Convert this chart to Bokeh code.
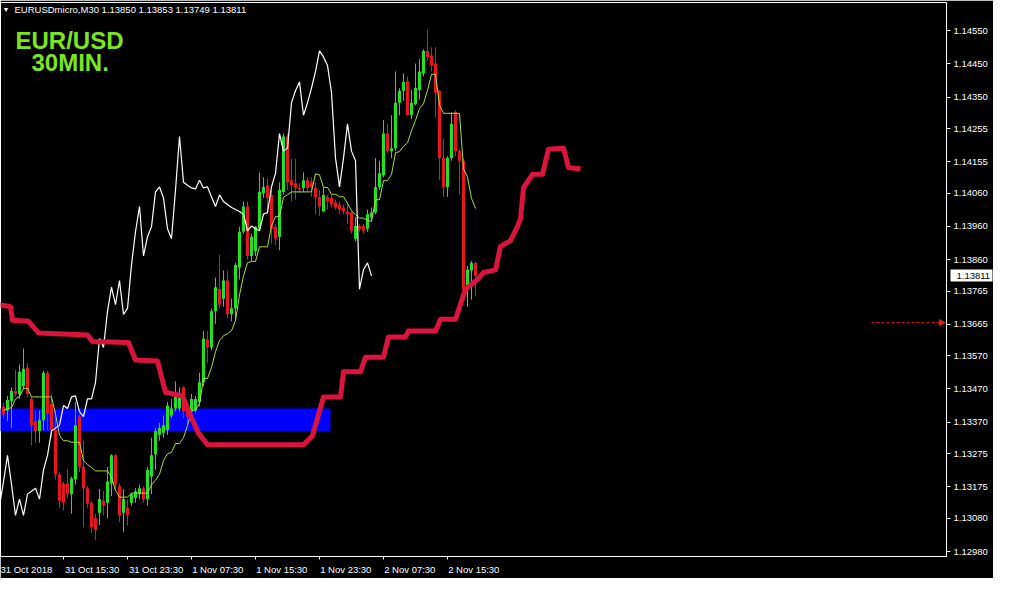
import numpy as np
import pandas as pd
from bokeh.plotting import figure
from bokeh.models import (Range1d, FixedTicker, Label, Arrow, NormalHead, LinearAxis,
                          ColumnDataSource, PrintfTickFormatter)
from bokeh.embed import file_html
from bokeh.resources import INLINE

# ---------------- data ----------------
symbol = "EURUSDmicro,M30"
chart_title = "EUR/USD"
chart_subtitle = "30MIN."
first_bar = "2018-10-31 08:00"
bar_minutes = 30

opens = [1.13417, 1.13405, 1.13434, 1.13464, 1.13455, 1.13478, 1.13534, 1.13440, 1.13373, 1.13343,
         1.13376, 1.13519, 1.13425, 1.13346, 1.13212, 1.13185, 1.13185, 1.13153, 1.13197, 1.13387,
         1.13235, 1.13171, 1.13127, 1.13080, 1.13097, 1.13133, 1.13127, 1.13185, 1.13270, 1.13177,
         1.13097, 1.13112, 1.13127, 1.13141, 1.13153, 1.13171, 1.13138, 1.13206, 1.13273, 1.13332,
         1.13338, 1.13346, 1.13390, 1.13411, 1.13411, 1.13475, 1.13402, 1.13402, 1.13405, 1.13431,
         1.13490, 1.13619, 1.13595, 1.13704, 1.13771, 1.13742, 1.13797, 1.13695, 1.13713, 1.13836,
         1.13944, 1.14020, 1.13871, 1.13885, 1.13953, 1.14061, 1.14084, 1.14055, 1.13959, 1.13929,
         1.14064, 1.14231, 1.14099, 1.14090, 1.14076, 1.14076, 1.14099, 1.14093, 1.14076, 1.14049,
         1.14005, 1.14049, 1.14046, 1.14032, 1.14026, 1.14017, 1.14005, 1.14002, 1.13923, 1.13961,
         1.13961, 1.13953, 1.13988, 1.14002, 1.14079, 1.14114, 1.14240, 1.14187, 1.14196, 1.14333,
         1.14369, 1.14398, 1.14295, 1.14328, 1.14371, 1.14421, 1.14489, 1.14474, 1.14451, 1.14369,
         1.14166, 1.14079, 1.14166, 1.14304, 1.14187, 1.14158, 1.13777, 1.13827, 1.13850]

highs = [1.13428, 1.13449, 1.13475, 1.13528, 1.13543, 1.13592, 1.13548, 1.13446, 1.13405, 1.13405,
         1.13525, 1.13525, 1.13455, 1.13405, 1.13220, 1.13191, 1.13229, 1.13206, 1.13431, 1.13393,
         1.13314, 1.13177, 1.13133, 1.13094, 1.13168, 1.13162, 1.13235, 1.13273, 1.13273, 1.13185,
         1.13168, 1.13138, 1.13156, 1.13171, 1.13182, 1.13177, 1.13235, 1.13323, 1.13352, 1.13367,
         1.13390, 1.13431, 1.13440, 1.13493, 1.13475, 1.13478, 1.13417, 1.13455, 1.13449, 1.13519,
         1.13645, 1.13645, 1.13713, 1.13806, 1.13874, 1.13827, 1.13827, 1.13742, 1.13850, 1.13959,
         1.14035, 1.14035, 1.13938, 1.13961, 1.14123, 1.14108, 1.14105, 1.14070, 1.13967, 1.14093,
         1.14240, 1.14240, 1.14164, 1.14164, 1.14090, 1.14123, 1.14108, 1.14108, 1.14093, 1.14070,
         1.14076, 1.14055, 1.14055, 1.14041, 1.14035, 1.14026, 1.14032, 1.14005, 1.13988, 1.13967,
         1.13967, 1.14011, 1.14017, 1.14166, 1.14158, 1.14281, 1.14269, 1.14295, 1.14427, 1.14377,
         1.14421, 1.14412, 1.14371, 1.14451, 1.14465, 1.14494, 1.14553, 1.14500, 1.14500, 1.14371,
         1.14225, 1.14172, 1.14304, 1.14310, 1.14193, 1.14166, 1.13841, 1.13856, 1.13853]

lows = [1.13382, 1.13373, 1.13352, 1.13446, 1.13440, 1.13469, 1.13446, 1.13300, 1.13308, 1.13308,
        1.13346, 1.13346, 1.13323, 1.13197, 1.13112, 1.13103, 1.13141, 1.13094, 1.13182, 1.13220,
        1.13053, 1.13112, 1.13036, 1.13015, 1.13059, 1.13089, 1.13080, 1.13147, 1.13168, 1.13068,
        1.13039, 1.13059, 1.13118, 1.13127, 1.13138, 1.13127, 1.13118, 1.13153, 1.13226, 1.13314,
        1.13323, 1.13332, 1.13382, 1.13402, 1.13402, 1.13382, 1.13358, 1.13387, 1.13399, 1.13417,
        1.13478, 1.13548, 1.13587, 1.13666, 1.13713, 1.13718, 1.13683, 1.13674, 1.13674, 1.13800,
        1.13938, 1.13859, 1.13856, 1.13871, 1.13947, 1.14046, 1.13997, 1.13909, 1.13903, 1.13888,
        1.14055, 1.14070, 1.14035, 1.14041, 1.14061, 1.14064, 1.14064, 1.14049, 1.13997, 1.13991,
        1.14002, 1.14011, 1.14017, 1.14011, 1.13997, 1.13997, 1.13967, 1.13938, 1.13915, 1.13944,
        1.13938, 1.13944, 1.13976, 1.13997, 1.14070, 1.14108, 1.14181, 1.14166, 1.14187, 1.14295,
        1.14339, 1.14295, 1.14284, 1.14325, 1.14342, 1.14412, 1.14459, 1.14427, 1.14289, 1.14099,
        1.14049, 1.14049, 1.14158, 1.14172, 1.14055, 1.13768, 1.13718, 1.13739, 1.13749]

closes = [1.13393, 1.13437, 1.13464, 1.13455, 1.13522, 1.13531, 1.13455, 1.13361, 1.13343, 1.13376,
          1.13519, 1.13396, 1.13346, 1.13212, 1.13133, 1.13127, 1.13153, 1.13200, 1.13361, 1.13235,
          1.13171, 1.13124, 1.13053, 1.13045, 1.13138, 1.13118, 1.13191, 1.13270, 1.13182, 1.13089,
          1.13138, 1.13089, 1.13153, 1.13162, 1.13171, 1.13138, 1.13226, 1.13270, 1.13343, 1.13352,
          1.13361, 1.13420, 1.13411, 1.13446, 1.13449, 1.13402, 1.13387, 1.13440, 1.13440, 1.13490,
          1.13622, 1.13595, 1.13704, 1.13777, 1.13724, 1.13797, 1.13695, 1.13713, 1.13844, 1.13944,
          1.14020, 1.13871, 1.13929, 1.13959, 1.14064, 1.14079, 1.14046, 1.13953, 1.13923, 1.14070,
          1.14231, 1.14093, 1.14084, 1.14076, 1.14073, 1.14099, 1.14076, 1.14079, 1.14049, 1.14020,
          1.14055, 1.14035, 1.14026, 1.14017, 1.14011, 1.14005, 1.13997, 1.13947, 1.13961, 1.13953,
          1.13947, 1.13997, 1.14002, 1.14079, 1.14120, 1.14240, 1.14187, 1.14196, 1.14333, 1.14369,
          1.14395, 1.14295, 1.14333, 1.14377, 1.14427, 1.14489, 1.14471, 1.14445, 1.14363, 1.14166,
          1.14079, 1.14166, 1.14269, 1.14187, 1.14158, 1.13771, 1.13830, 1.13850, 1.13811]

time_label_times = ["2018-10-31 07:30", "2018-10-31 15:30", "2018-10-31 23:30",
                    "2018-11-01 07:30", "2018-11-01 15:30", "2018-11-01 23:30",
                    "2018-11-02 07:30", "2018-11-02 15:30"]

price_ticks = [1.12980, 1.13080, 1.13175, 1.13275, 1.13370, 1.13470, 1.13570, 1.13665,
               1.13765, 1.13860, 1.13960, 1.14060, 1.14155, 1.14255, 1.14350, 1.14450, 1.14550]

# Senkou span B (shifted forward 26 bars) vertices: bar index, price
senkou_b_bars = [-1, 1.75, 2.25, 6.25, 8.75, 21, 22.25, 31.25, 33, 38.5, 40.5, 44.75, 46.75,
                 48.75, 51, 75, 77.25, 80, 84.25, 85, 89.25, 90.5, 95, 96.25, 100.5, 101.25,
                 108, 109.25, 113, 115.5, 116.75, 118.5, 120, 123, 124.25, 126.75, 128, 129.25,
                 130, 132.25, 134.75, 136.25, 140, 141.25, 144.25]
senkou_b_prices = [1.13724, 1.13718, 1.13677, 1.13674, 1.13639, 1.13633, 1.13613, 1.13610,
                   1.13557, 1.13554, 1.13460, 1.13449, 1.13390, 1.13337, 1.13302, 1.13302,
                   1.13329, 1.13446, 1.13446, 1.13522, 1.13522, 1.13566, 1.13566, 1.13627,
                   1.13627, 1.13645, 1.13645, 1.13680, 1.13680, 1.13771, 1.13783, 1.13800,
                   1.13821, 1.13829, 1.13900, 1.13917, 1.13947, 1.13982, 1.14076, 1.14117,
                   1.14117, 1.14193, 1.14196, 1.14137, 1.14134]

zone_first_bar = -5.0
zone_last_bar = 81.75
zone_top = 1.13411
zone_bottom = 1.13343

alert_level = 1.13670

chikou_shift = 26
tenkan_period = 9

# ---------------- geometry ----------------
FW, FH = 946, 554
PX_PER_BAR = 4
x_start = -0.75
x_end = x_start + FW / PX_PER_BAR
y_start, y_end = 1.12965, 1.14635


def fx(px):
    return x_start + px / PX_PER_BAR


def fy(py):
    return y_end - py * (y_end - y_start) / FH


GREEN = "#1FE31F"
RED = "#E8161B"
CRIMSON = "#DC143C"
TENKAN = "#A9DE3A"
FONT = "Liberation Sans"
AXIS_FONT_SIZE = "9.5px"

df = pd.DataFrame(dict(o=opens, h=highs, l=lows, c=closes))
df["i"] = np.arange(len(df))
df["top"] = df[["o", "c"]].max(axis=1)
df["bot"] = df[["o", "c"]].min(axis=1)
df["color"] = np.where(df.c >= df.o, GREEN, RED)
src = ColumnDataSource(df)

tenkan = (df.h.rolling(tenkan_period, min_periods=1).max() +
          df.l.rolling(tenkan_period, min_periods=1).min()) / 2
chikou_x = df.i - chikou_shift
mask = chikou_x >= -1

p = figure(frame_width=FW, frame_height=FH,
           x_range=Range1d(x_start, x_end), y_range=Range1d(y_start, y_end),
           y_axis_location="right", output_backend="svg", toolbar_location=None,
           background_fill_color="black", border_fill_color="black",
           min_border_left=0, min_border_top=2, min_border_right=42, min_border_bottom=22)
p.xgrid.visible = False
p.ygrid.visible = False
p.outline_line_color = "white"

# zone
p.quad(left=[zone_first_bar], right=[zone_last_bar], top=[zone_top], bottom=[zone_bottom],
       fill_color="#0000FF", line_color=None)

# candles
p.segment(x0="i", y0="h", x1="i", y1="l", color="color", line_width=1, source=src)
p.vbar(x="i", width=0.75, top="top", bottom="bot", fill_color="color", line_color=None, source=src)

# Tenkan
p.line(df.i, tenkan, line_color=TENKAN, line_width=1)
# Chikou
p.line(chikou_x[mask], df.c[mask], line_color="white", line_width=1.2)
# Senkou B
p.line(senkou_b_bars, senkou_b_prices, line_color=CRIMSON, line_width=5, line_join="round")

# alert arrow
p.add_layout(Arrow(x_start=x_end - 75 / PX_PER_BAR, y_start=alert_level,
                   x_end=x_end - 0.3, y_end=alert_level, line_color="#E02020", line_width=1,
                   line_dash="3 2",
                   end=NormalHead(size=6, fill_color="#E02020", line_color="#E02020")))

# x axis: date labels left-aligned to their tick, ticks as minor marks
t0 = pd.Timestamp(first_bar)
lab_ts = pd.to_datetime(time_label_times)
tick_bars = [float((t - t0) / pd.Timedelta(minutes=bar_minutes)) for t in lab_ts]
labels = []
for k, t in enumerate(lab_ts):
    if k == 0:
        labels.append(f"{t.day} {t:%b %Y}")
    else:
        labels.append(f"{t.day} {t:%b %H:%M}")
centers = [b + (1 + 4.6 * len(s) / 2) / PX_PER_BAR for b, s in zip(tick_bars, labels)]
xa = p.xaxis[0]
xa.ticker = FixedTicker(ticks=centers, minor_ticks=tick_bars)
xa.major_label_overrides = {c: s for c, s in zip(centers, labels)}
xa.axis_line_color = "white"
xa.major_tick_out = 0
xa.major_tick_in = 0
xa.minor_tick_out = 3
xa.minor_tick_in = 0
xa.minor_tick_line_color = "white"
xa.major_label_text_color = "white"
xa.major_label_text_font = FONT
xa.major_label_text_font_size = AXIS_FONT_SIZE
xa.major_label_standoff = 4

ya = p.yaxis[0]
ya.ticker = FixedTicker(ticks=price_ticks, minor_ticks=[])
ya.formatter = PrintfTickFormatter(format="%.5f")
ya.axis_line_color = "white"
ya.major_tick_line_color = "white"
ya.major_tick_out = 4
ya.major_tick_in = 0
ya.minor_tick_out = 0
ya.minor_tick_in = 0
ya.major_label_text_color = "white"
ya.major_label_text_font = FONT
ya.major_label_text_font_size = AXIS_FONT_SIZE
ya.major_label_standoff = 3

# current price tag: an outer right axis whose single tick forms the white box
last = df.iloc[-1]
last_close = float(last.c)
tag = LinearAxis(ticker=FixedTicker(ticks=[last_close], minor_ticks=[]),
                 formatter=PrintfTickFormatter(format="%.5f"))
tag.axis_line_color = None
tag.major_tick_line_color = "white"
tag.major_tick_line_width = 12
tag.major_tick_line_cap = "butt"
tag.major_tick_in = 40
tag.major_tick_out = 2
tag.minor_tick_out = 0
tag.minor_tick_in = 0
tag.major_label_text_color = "black"
tag.major_label_text_font = FONT
tag.major_label_text_font_size = AXIS_FONT_SIZE
tag.major_label_standoff = -36
p.add_layout(tag, "right")

# header
header = f"{symbol}  {last.o:.5f} {last.h:.5f} {last.l:.5f} {last.c:.5f}"
p.add_layout(Label(x=fx(2), y=fy(7), text="\u25BC", text_color="white", text_font=FONT,
                   text_font_size="7px", text_baseline="middle"))
p.add_layout(Label(x=fx(14), y=fy(7), text=header, text_color="white", text_font=FONT,
                   text_font_size="9.5px", text_baseline="middle"))
p.add_layout(Label(x=fx(15), y=fy(38), text=chart_title, text_color="#7CE61E", text_font=FONT,
                   text_font_style="bold", text_font_size="24px", text_baseline="alphabetic"))
p.add_layout(Label(x=fx(31), y=fy(60), text=chart_subtitle, text_color="#7CE61E", text_font=FONT,
                   text_font_style="bold", text_font_size="24px", text_baseline="alphabetic"))

open("out.html", "w").write(file_html(p, INLINE))
